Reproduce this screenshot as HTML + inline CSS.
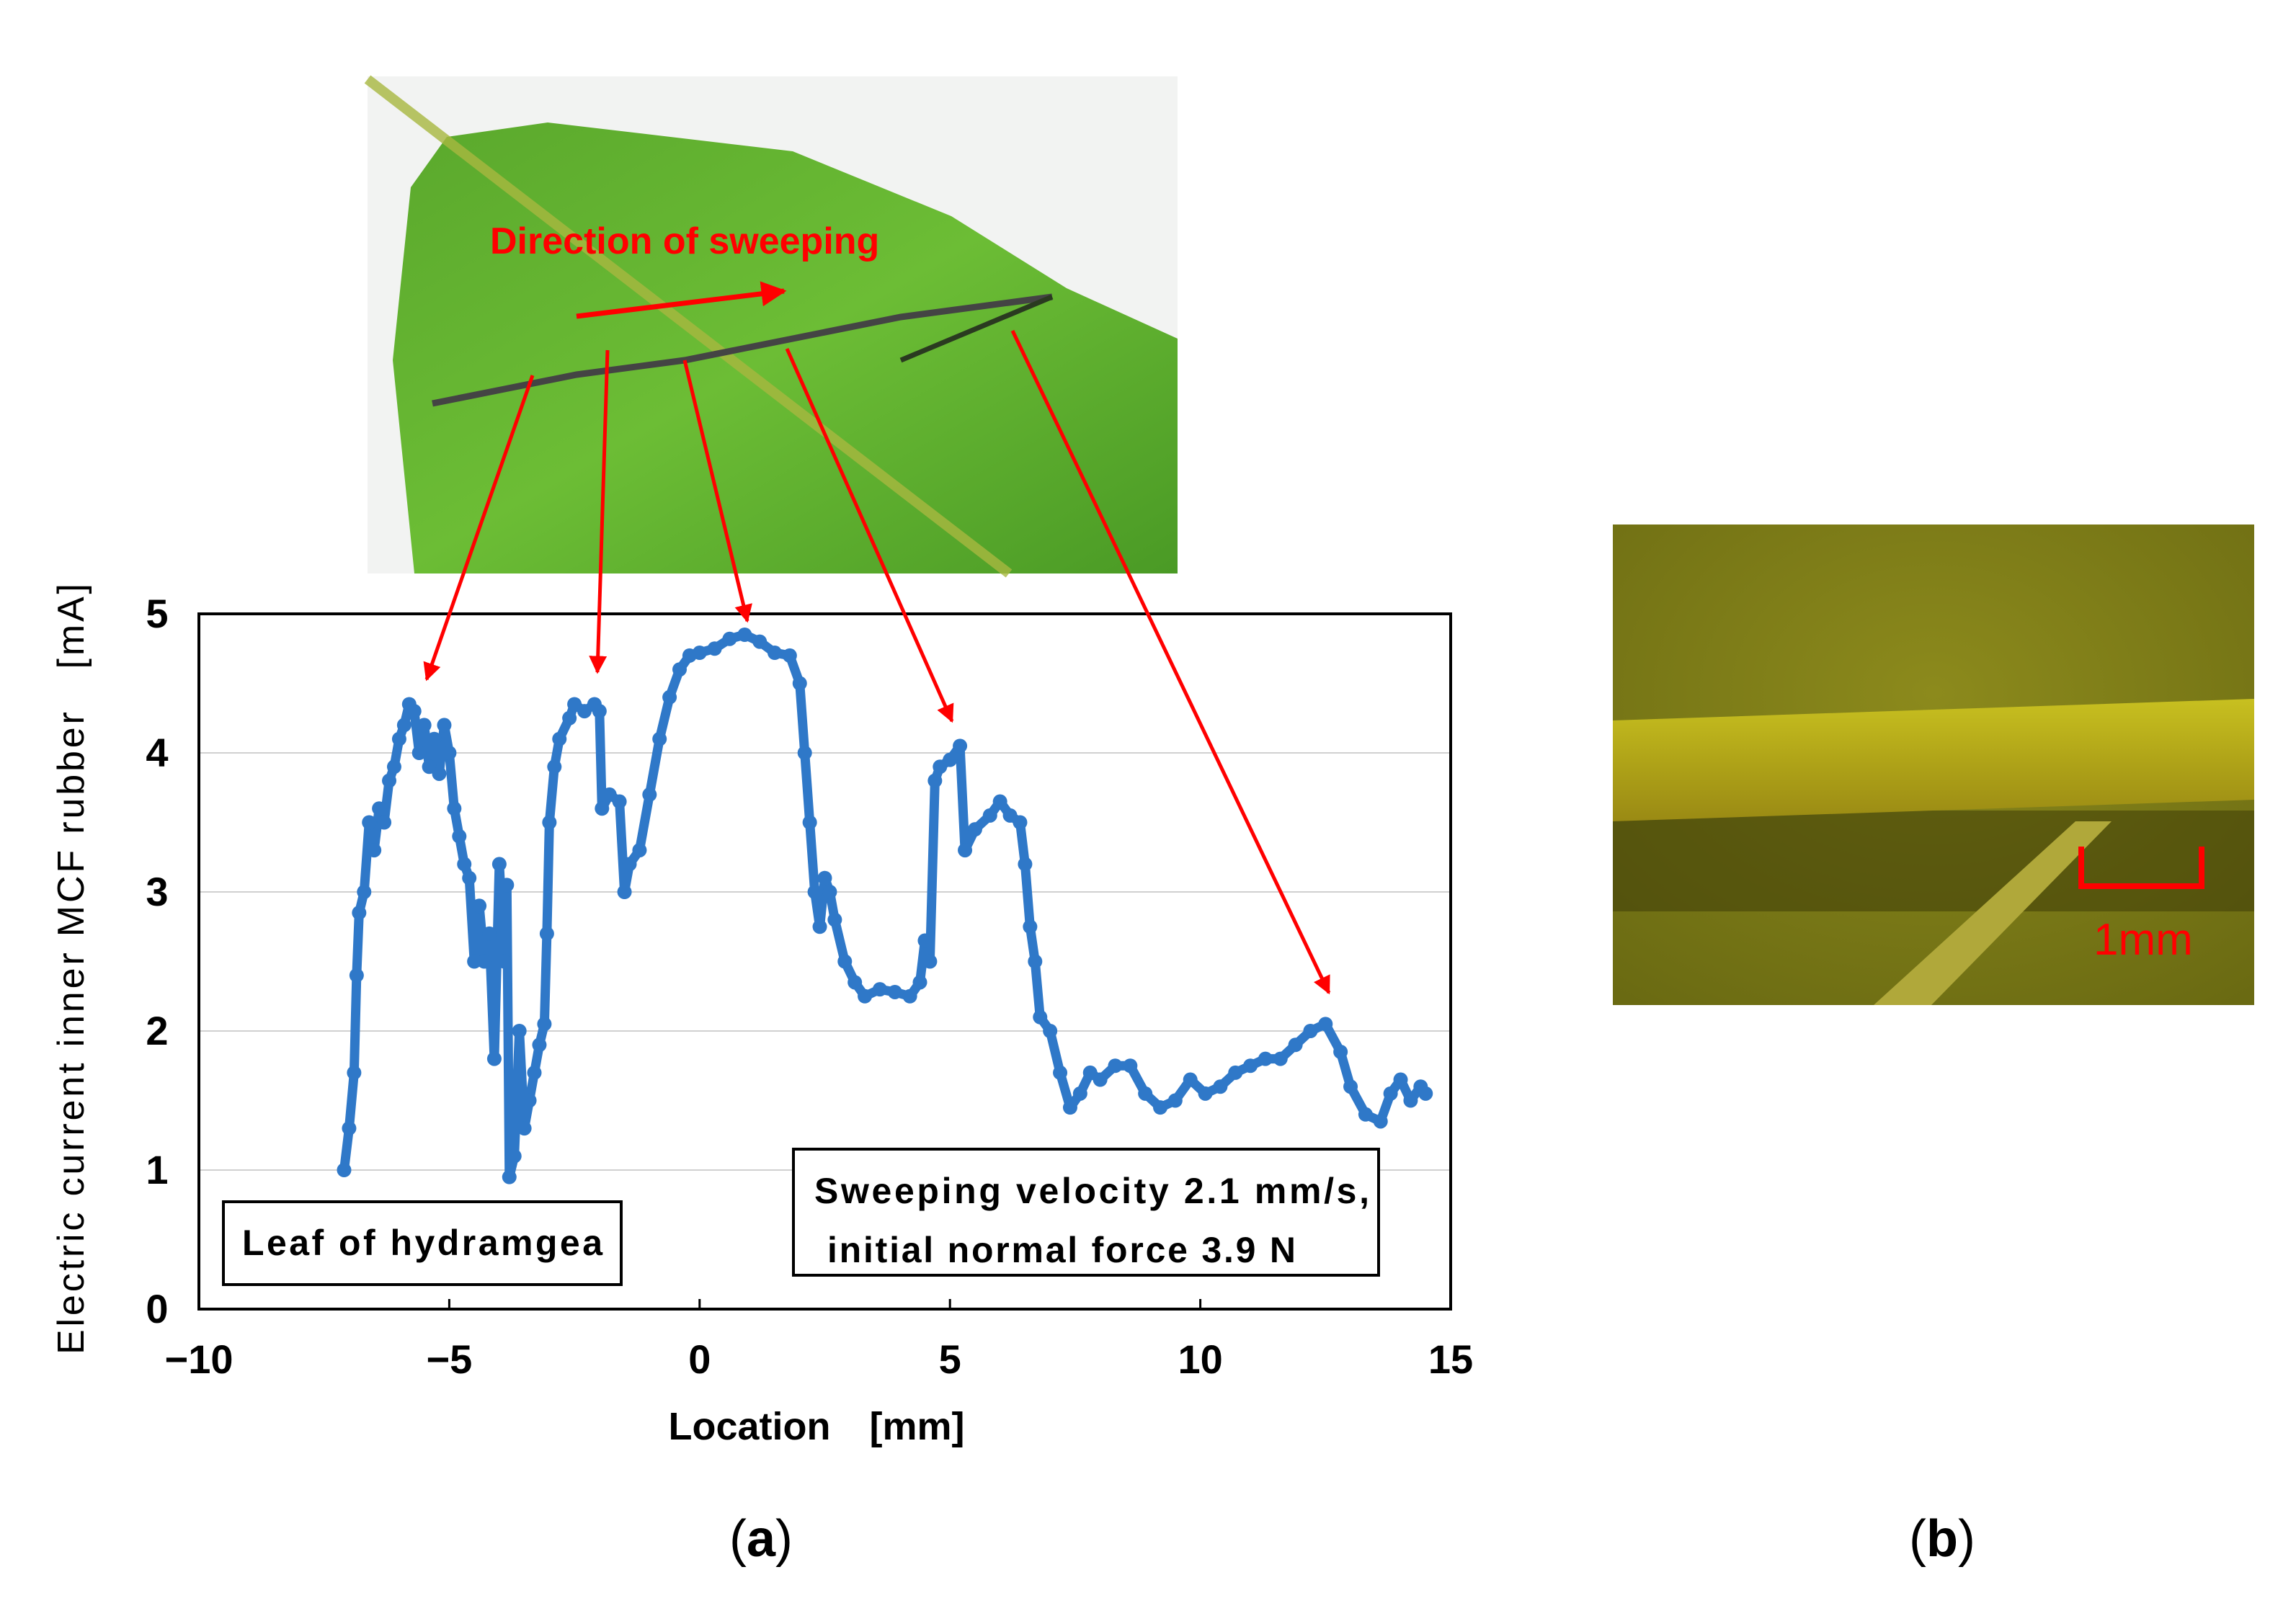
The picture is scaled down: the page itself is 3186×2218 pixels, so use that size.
<!DOCTYPE html>
<html><head><meta charset="utf-8"><style>
html,body{margin:0;padding:0;background:#fff;width:3186px;height:2218px;overflow:hidden}
svg{display:block}
text{font-family:"Liberation Sans",sans-serif}
</style></head><body>
<svg id="fig" width="3186" height="2218" viewBox="0 0 3186 2218" xmlns="http://www.w3.org/2000/svg">
<defs>
<marker id="ah" viewBox="0 0 10 10" refX="9" refY="5" markerWidth="5" markerHeight="5" orient="auto"><path d="M0,0 L10,5 L0,10 z" fill="#f00"/></marker>
<linearGradient id="leafg" x1="0" y1="0" x2="1" y2="1"><stop offset="0" stop-color="#5aa82c"/><stop offset="0.5" stop-color="#6cbd35"/><stop offset="1" stop-color="#4a9a25"/></linearGradient>
<radialGradient id="micg" cx="0.5" cy="0.35" r="0.8"><stop offset="0" stop-color="#8c8a1c"/><stop offset="1" stop-color="#6a6a12"/></radialGradient>
<linearGradient id="veing" x1="0" y1="0" x2="0" y2="1"><stop offset="0" stop-color="#c8c020"/><stop offset="0.5" stop-color="#b0a418"/><stop offset="1" stop-color="#9a8a14"/></linearGradient>
</defs>

<g>
<rect x="510" y="106" width="1124" height="690" fill="#f2f3f2"/>
<path d="M575,796 L545,500 L570,260 L620,190 L760,170 L1100,210 L1320,300 L1480,400 L1634,470 L1634,796 Z" fill="url(#leafg)"/>
<line x1="510" y1="110" x2="1400" y2="796" stroke="#a8b840" stroke-width="14" opacity="0.8"/>
<path d="M600,560 L700,540 L800,520 L950,500 L1100,470 L1250,440 L1460,412" stroke="#444" stroke-width="9" fill="none"/>
<line x1="1250" y1="500" x2="1460" y2="412" stroke="#2a3a20" stroke-width="7"/>
<text x="680" y="352" font-size="52" font-weight="bold" fill="#f00">Direction of sweeping</text>
<line x1="800" y1="439" x2="1088" y2="404" stroke="#f00" stroke-width="7" marker-end="url(#ah)"/>
</g>

<g>
<rect x="2238" y="728" width="890" height="667" fill="url(#micg)"/>
<rect x="2238" y="1125" width="890" height="140" fill="#3e3c08" opacity="0.55"/>
<path d="M2238,1000 L3128,970 L3128,1110 L2238,1140 Z" fill="url(#veing)"/>
<path d="M2600,1395 L2880,1140 L2930,1140 L2680,1395 Z" fill="#b0a83a"/>
<path d="M2888,1175 L2888,1230 L3055,1230 L3055,1175" stroke="#f00" stroke-width="8" fill="none"/>
<text x="2905" y="1325" font-size="62" fill="#f00">1mm</text>
</g>

<g id="chart"></g>

<g>
<rect x="310" y="1668" width="552" height="115" fill="#fff" stroke="#000" stroke-width="4"/>
<text x="586" y="1742" font-size="50" font-weight="bold" text-anchor="middle" textLength="500">Leaf of hydramgea</text>
</g>
<g>
<rect x="1101" y="1595" width="812" height="175" fill="#fff" stroke="#000" stroke-width="4"/>
<text x="1130" y="1670" font-size="50" font-weight="bold" textLength="770">Sweeping velocity 2.1 mm/s,</text>
<text x="1148" y="1752" font-size="50" font-weight="bold" textLength="650">initial normal force 3.9 N</text>
</g>

<g>
<line x1="739" y1="521" x2="592" y2="943" stroke="#f00" stroke-width="5" marker-end="url(#ah)"/>
<line x1="843" y1="486" x2="829" y2="933" stroke="#f00" stroke-width="5" marker-end="url(#ah)"/>
<line x1="950" y1="500" x2="1037" y2="862" stroke="#f00" stroke-width="5" marker-end="url(#ah)"/>
<line x1="1092" y1="484" x2="1321" y2="1001" stroke="#f00" stroke-width="5" marker-end="url(#ah)"/>
<line x1="1405" y1="459" x2="1844" y2="1378" stroke="#f00" stroke-width="5" marker-end="url(#ah)"/>
</g>

<text x="1056" y="2160" font-size="72" text-anchor="middle" font-family="Liberation Serif,serif">(<tspan font-weight="bold">a</tspan>)</text>
<text x="2695" y="2160" font-size="72" text-anchor="middle" font-family="Liberation Serif,serif">(<tspan font-weight="bold">b</tspan>)</text>
</svg>
<script>
const xs = [-7.1,-7.0,-6.9,-6.85,-6.8,-6.7,-6.6,-6.5,-6.4,-6.3,-6.2,-6.1,-6.0,-5.9,-5.8,-5.7,-5.6,-5.5,-5.4,-5.3,-5.2,-5.1,-5.0,-4.9,-4.8,-4.7,-4.6,-4.5,-4.4,-4.3,-4.2,-4.1,-4.0,-3.9,-3.85,-3.8,-3.7,-3.6,-3.5,-3.4,-3.3,-3.2,-3.1,-3.05,-3.0,-2.9,-2.8,-2.6,-2.5,-2.3,-2.1,-2.0,-1.95,-1.8,-1.6,-1.5,-1.4,-1.2,-1.0,-0.8,-0.6,-0.4,-0.2,0,0.3,0.6,0.9,1.2,1.5,1.8,2.0,2.1,2.2,2.3,2.4,2.5,2.6,2.7,2.9,3.1,3.3,3.6,3.9,4.2,4.4,4.5,4.6,4.7,4.8,5.0,5.2,5.3,5.5,5.8,6.0,6.2,6.4,6.5,6.6,6.7,6.8,7.0,7.2,7.4,7.6,7.8,8.0,8.3,8.6,8.9,9.2,9.5,9.8,10.1,10.4,10.7,11.0,11.3,11.6,11.9,12.2,12.5,12.8,13.0,13.3,13.6,13.8,14.0,14.2,14.4,14.5];
const ys = [1.0,1.3,1.7,2.4,2.85,3.0,3.5,3.3,3.6,3.5,3.8,3.9,4.1,4.2,4.35,4.3,4.0,4.2,3.9,4.1,3.85,4.2,4.0,3.6,3.4,3.2,3.1,2.5,2.9,2.5,2.7,1.8,3.2,2.5,3.05,0.95,1.1,2.0,1.3,1.5,1.7,1.9,2.05,2.7,3.5,3.9,4.1,4.25,4.35,4.3,4.35,4.3,3.6,3.7,3.65,3.0,3.2,3.3,3.7,4.1,4.4,4.6,4.7,4.72,4.75,4.82,4.85,4.8,4.72,4.7,4.5,4.0,3.5,3.0,2.75,3.1,3.0,2.8,2.5,2.35,2.25,2.3,2.28,2.25,2.35,2.65,2.5,3.8,3.9,3.95,4.05,3.3,3.45,3.55,3.65,3.55,3.5,3.2,2.75,2.5,2.1,2.0,1.7,1.45,1.55,1.7,1.65,1.75,1.75,1.55,1.45,1.5,1.65,1.55,1.6,1.7,1.75,1.8,1.8,1.9,2.0,2.05,1.85,1.6,1.4,1.35,1.55,1.65,1.5,1.6,1.55];
const xTicks = [-10,-5,0,5,10,15];
const xTickLabels = ["\u221210","\u22125","0","5","10","15"];
const yTicks = [0,1,2,3,4,5];
const yTickLabels = ["0","1","2","3","4","5"];

const NS = "http://www.w3.org/2000/svg";
const L = 276, R = 2013, T = 852, B = 1817;
const sx = v => L + (v + 10) / 25 * (R - L);
const sy = v => B - v / 5 * (B - T);
const g = document.getElementById('chart');
function mk(tag, attrs, parent) {
  const e = document.createElementNS(NS, tag);
  for (const k in attrs) e.setAttribute(k, attrs[k]);
  (parent || g).appendChild(e);
  return e;
}
const bg = mk('rect', {x: L, y: T, width: R - L, height: B - T, fill: '#fff'});


yTicks.forEach((v, i) => {
  if (v > 0 && v < 5) {
    const gl = mk('line', {x1: L, x2: R, y1: sy(v), y2: sy(v), stroke: '#d0d0d0', 'stroke-width': 2});
    
    
  }
  const t = mk('text', {x: 218, y: sy(v) + 19, 'font-size': 56, 'font-weight': 'bold', 'text-anchor': 'middle'});
  t.textContent = yTickLabels[i];
  
  
});
xTicks.forEach((v, i) => {
  if (v > -10 && v < 15) {
    const tk = mk('line', {x1: sx(v), x2: sx(v), y1: B, y2: B - 14, stroke: '#000', 'stroke-width': 3});
    
    
  }
  const t = mk('text', {x: sx(v), y: 1906, 'font-size': 56, 'font-weight': 'bold', 'text-anchor': 'middle'});
  t.textContent = xTickLabels[i];
  
  
});
const pts = xs.map((x, i) => sx(x) + ',' + sy(ys[i])).join(' ');
const band = mk('polyline', {points: pts, fill: 'none', stroke: '#2f78c8', 'stroke-width': 13, 'stroke-linejoin': 'round', 'stroke-linecap': 'round'});


xs.forEach((x, i) => {
  const c = mk('circle', {cx: sx(x), cy: sy(ys[i]), r: 10, fill: '#2f78c8'});
  
  
});
const frame = mk('rect', {x: L, y: T, width: R - L, height: B - T, fill: 'none', stroke: '#000', 'stroke-width': 4});


const xl = mk('text', {x: 1133, y: 1998, 'font-size': 54, 'font-weight': 'bold', 'text-anchor': 'middle'});
xl.textContent = 'Location\u3000[mm]';


const yl = mk('text', {x: 0, y: 0, 'font-size': 52, 'text-anchor': 'middle', textLength: 1070, transform: 'translate(116,1345) rotate(-90)'});
yl.textContent = 'Electric current inner MCF rubber\u3000[mA]';


</script>
</body></html>
